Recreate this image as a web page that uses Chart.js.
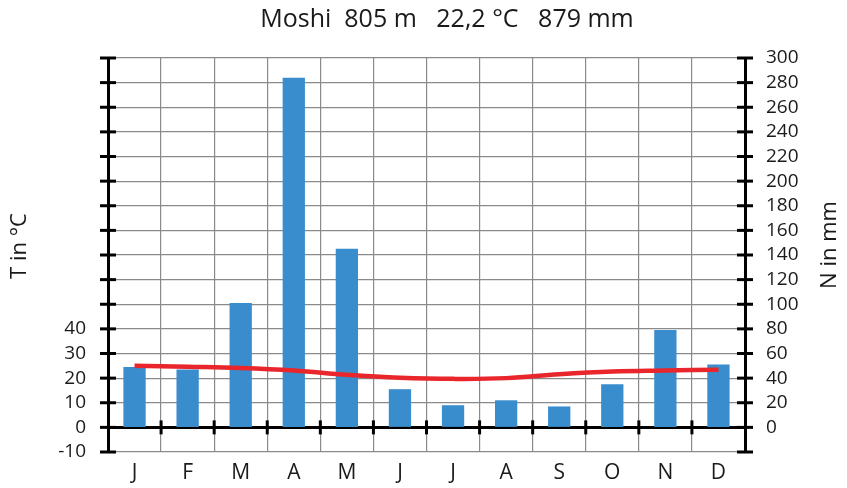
<!DOCTYPE html>
<html>
<head>
<meta charset="utf-8">
<script src="https://cdn.jsdelivr.net/npm/chart.js@4.4.1/dist/chart.umd.min.js"></script>
<style>
  html,body{margin:0;padding:0;background:#fff;}
  #wrap{width:847px;height:488px;position:relative;}
</style>
</head>
<body>
<div id="wrap"><canvas id="c" width="847" height="488"></canvas></div>
<script>
// ── Klimadiagramm Moshi ──
const titel='Moshi  805 m   22,2 °C   879 mm';
const monate=['J','F','M','A','M','J','J','A','S','O','N','D'];
const niederschlag=[49,47,101,284,145,31,18,22,17,35,79,51];   // mm
const temperatur=[25.0,24.6,24.1,23.1,21.4,20.2,19.7,20.0,21.6,22.7,23.1,23.4]; // °C
const tempTicksMax=40;   // Beschriftung links nur bis 40

const FONT='"Open Sans", "Noto Sans", sans-serif';
const GRAU='#8a8a8a';

// Achsen-Ticks, die über die Achslinie hinausragen + Beschriftungen
const extras={
  id:'extras',
  afterDraw(chart){
    const ctx=chart.ctx, a=chart.chartArea;
    const y=chart.scales.y, y1=chart.scales.y1, x=chart.scales.x;
    ctx.save();
    ctx.strokeStyle='#000';ctx.lineWidth=3;ctx.lineCap='butt';
    y.ticks.forEach(t=>{const py=y.getPixelForValue(t.value);ctx.beginPath();ctx.moveTo(a.left-8,py);ctx.lineTo(a.left+8,py);ctx.stroke();});
    y1.ticks.forEach(t=>{const py=y1.getPixelForValue(t.value);ctx.beginPath();ctx.moveTo(a.right-8,py);ctx.lineTo(a.right+8,py);ctx.stroke();});
    const y0=y.getPixelForValue(0);
    for(let i=1;i<monate.length;i++){
      const px=(x.getPixelForValue(i-1)+x.getPixelForValue(i))/2;
      ctx.beginPath();ctx.moveTo(px,y0-7);ctx.lineTo(px,y0+7);ctx.stroke();
    }
    // Texte
    ctx.fillStyle='#1a1a1a';ctx.textAlign='center';ctx.textBaseline='middle';
    ctx.font='25px '+FONT;
    ctx.fillText(titel,447,20);
    ctx.font='22px '+FONT;
    ctx.save();ctx.translate(20,246);ctx.rotate(-Math.PI/2);ctx.fillText('T in °C',0,0);ctx.restore();
    ctx.save();ctx.translate(830,245);ctx.rotate(-Math.PI/2);ctx.fillText('N in mm',0,0);ctx.restore();
    ctx.restore();
  }
};

new Chart(document.getElementById('c'),{
  type:'bar',
  data:{labels:monate,datasets:[
    {type:'line',label:'Temperatur',data:temperatur,yAxisID:'y',borderColor:'#e8262b',borderWidth:4.5,pointRadius:0,tension:0.4,fill:false,order:0},
    {type:'bar',label:'Niederschlag',data:niederschlag,yAxisID:'y1',backgroundColor:'#3a8dcd',barPercentage:0.42,categoryPercentage:1,order:1},
  ]},
  plugins:[extras],
  options:{
    responsive:false,animation:false,
    layout:{padding:{top:58,left:0,right:0,bottom:0}},
    plugins:{legend:{display:false},tooltip:{enabled:false}},
    scales:{
      x:{
        offset:true,
        grid:{display:true,offset:true,color:GRAU,lineWidth:1.2,drawTicks:false},
        border:{display:false},
        ticks:{color:'#1a1a1a',font:{family:FONT,size:21},padding:8},
        afterFit(s){s.height=36;}
      },
      y:{
        position:'left',min:-10,max:150,
        ticks:{stepSize:10,autoSkip:false,color:'#1a1a1a',font:{family:FONT,size:19},padding:22,
          callback:v=>v<=tempTicksMax?String(v):''},
        grid:{color:c=>c.tick&&c.tick.value===0?'#000':GRAU,lineWidth:c=>c.tick&&c.tick.value===0?3:1.2,drawTicks:false},
        border:{display:true,color:'#000',width:3},
        afterFit(s){s.width=108;}
      },
      y1:{
        position:'right',min:-20,max:300,
        ticks:{stepSize:20,autoSkip:false,color:'#1a1a1a',font:{family:FONT,size:19},padding:21,
          callback:v=>v>=0?String(v):''},
        grid:{drawOnChartArea:false,drawTicks:false},
        border:{display:true,color:'#000',width:3},
        afterFit(s){s.width=102;}
      }
    }
  }
});
</script>
</body>
</html>
